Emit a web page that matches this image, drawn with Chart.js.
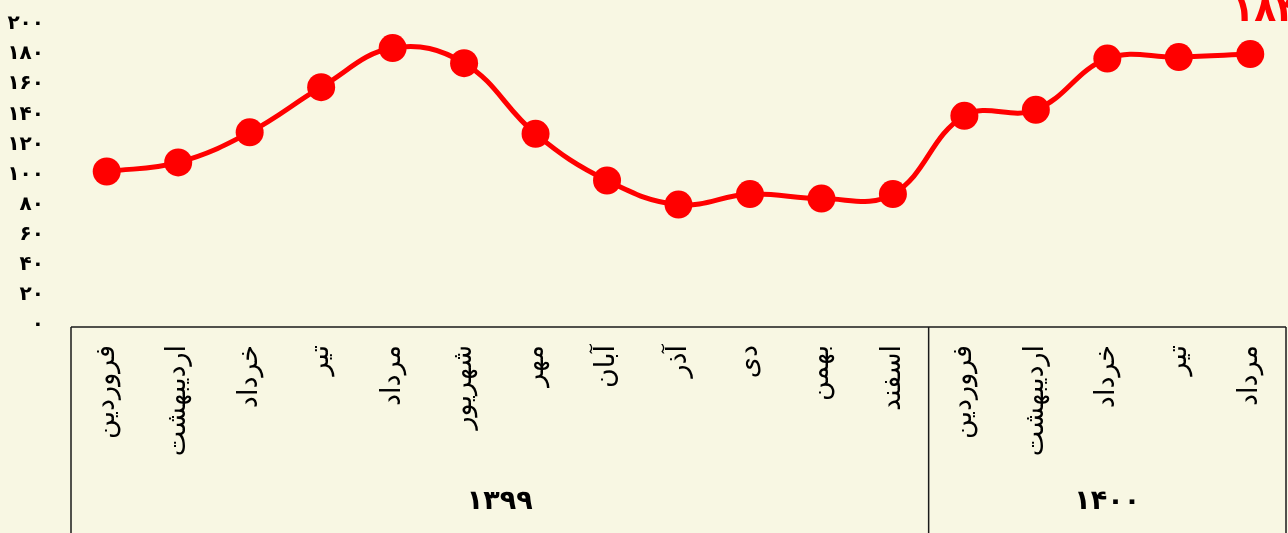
<!DOCTYPE html>
<html lang="fa">
<head>
<meta charset="utf-8">
<title>Chart</title>
<script src="https://cdn.jsdelivr.net/npm/chart.js@4"></script>
<style>
    html, body { margin: 0; padding: 0; background: #f8f7e3; overflow: hidden; }
    #wrap { width: 1288px; height: 533px; position: relative; }
    canvas { display: block; }
</style>
</head>
<body>
<div id="wrap"><canvas id="lineChart"></canvas></div>
<script>
// ===================================
// DATA
// ===================================

const months = [
    'فروردین', 'اردیبهشت', 'خرداد', 'تیر', 'مرداد', 'شهریور',
    'مهر', 'آبان', 'آذر', 'دی', 'بهمن', 'اسفند',
    'فروردین', 'اردیبهشت', 'خرداد', 'تیر', 'مرداد'
];
const yearLabels = ['۱۳۹۹', '۱۴۰۰'];
const yearSpans = [12, 5];   // number of months in each year group
const values = [102, 108, 128, 158, 184, 174, 127, 96, 80, 87, 84, 87, 139, 143, 177, 178, 180];
const yTickLabels = ['۰', '۲۰', '۴۰', '۶۰', '۸۰', '۱۰۰', '۱۲۰', '۱۴۰', '۱۶۰', '۱۸۰', '۲۰۰'];
const highlightLabel = '۱۸۴';

const FONT = "'DejaVu Sans', sans-serif";

// ===================================
// PLUGINS
// ===================================

// paint beige background
const bgPlugin = {
    id: 'bg',
    beforeDraw(chart) {
        const ctx = chart.ctx;
        ctx.save();
        ctx.fillStyle = '#f8f7e3';
        ctx.fillRect(0, 0, chart.width, chart.height);
        ctx.restore();
    }
};

// frame under the plot with year groups
const yearBoxPlugin = {
    id: 'yearBox',
    afterDraw(chart) {
        const ctx = chart.ctx;
        const x = chart.scales.x;
        const area = chart.chartArea;
        const top = area.bottom + 2;
        const bottom = chart.height;

        ctx.save();
        ctx.strokeStyle = '#1a1a1a';
        ctx.lineWidth = 1.5;

        ctx.beginPath();
        ctx.moveTo(area.left, top);
        ctx.lineTo(area.right, top);
        ctx.stroke();

        // group boundaries
        let start = 0;
        const edges = [area.left];
        yearSpans.forEach((span, i) => {
            const end = start + span - 1;
            const right = (i === yearSpans.length - 1)
                ? area.right
                : (x.getPixelForValue(end) + x.getPixelForValue(end + 1)) / 2;
            edges.push(right);
            start += span;
        });
        edges.forEach(ex => {
            ctx.beginPath();
            ctx.moveTo(ex, top);
            ctx.lineTo(ex, bottom);
            ctx.stroke();
        });

        // year labels
        ctx.fillStyle = '#000';
        ctx.font = 'bold 27px ' + FONT;
        ctx.textAlign = 'center';
        ctx.textBaseline = 'middle';
        yearLabels.forEach((lbl, i) => {
            ctx.fillText(lbl, (edges[i] + edges[i + 1]) / 2, 502);
        });

        // red value label at top right
        const last = x.getPixelForValue(values.length - 1);
        ctx.fillStyle = '#ff0000';
        ctx.font = 'bold 36px ' + FONT;
        ctx.textAlign = 'left';
        ctx.textBaseline = 'alphabetic';
        ctx.fillText(highlightLabel, last - 18, 21);
        ctx.restore();
    }
};

// ===================================
// CHART
// ===================================

const ctx = document.getElementById('lineChart').getContext('2d');

new Chart(ctx, {
    type: 'line',
    data: {
        labels: months,
        datasets: [{
            data: values,
            borderColor: '#ff0000',
            backgroundColor: '#ff0000',
            borderWidth: 5,
            pointRadius: 14,
            pointHoverRadius: 14,
            pointBorderWidth: 0,
            tension: 0.4,
            fill: false
        }]
    },
    options: {
        responsive: true,
        maintainAspectRatio: false,
        animation: false,
        layout: {
            autoPadding: false,
            padding: { top: 24, right: 2, left: 0, bottom: 0 }
        },
        plugins: {
            legend: { display: false },
            tooltip: { enabled: false }
        },
        scales: {
            x: {
                offset: true,
                grid: { display: false, drawTicks: false },
                border: { display: false },
                ticks: {
                    autoSkip: false,
                    maxRotation: 90,
                    minRotation: 90,
                    padding: 20,
                    color: '#000',
                    font: { family: FONT, size: 27 }
                },
                afterFit(scale) {
                    scale.height = 208;
                    scale.paddingLeft = 0;
                    scale.paddingRight = 0;
                }
            },
            y: {
                min: 0,
                max: 200,
                grid: { display: false, drawTicks: false },
                border: { display: false },
                ticks: {
                    stepSize: 20,
                    padding: 27,
                    color: '#000',
                    font: { family: FONT, size: 20, weight: 'bold' },
                    callback: (v) => yTickLabels[Math.round(v / 20)]
                },
                afterFit(scale) {
                    scale.width = 71;
                    scale.paddingTop = 0;
                    scale.paddingBottom = 0;
                }
            }
        }
    },
    plugins: [bgPlugin, yearBoxPlugin]
});
</script>
</body>
</html>
